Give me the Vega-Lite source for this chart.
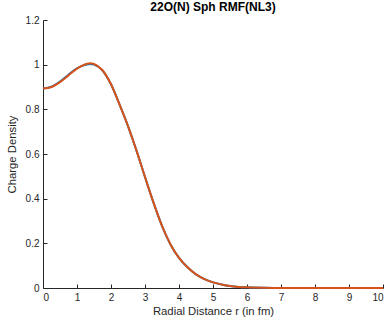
{
  "$schema": "https://vega.github.io/schema/vega-lite/v6.json",
  "autosize": {"type": "none"},
  "padding": {"left": 43, "top": 20, "right": 4, "bottom": 39},
  "width": 340,
  "height": 268,
  "background": "white",
  "title": {"text": "22O(N) Sph RMF(NL3)", "font": "Liberation Sans", "fontSize": 12, "fontWeight": "bold", "color": "#000000", "offset": 1},
  "config": {
    "view": {"stroke": null},
    "axis": {"labelFont": "Liberation Sans", "titleFont": "Liberation Sans", "labelFontSize": 10, "titleFontSize": 11.3, "titleFontWeight": "normal", "labelColor": "#262626", "titleColor": "#262626", "domainColor": "#262626", "tickColor": "#262626", "grid": false, "tickSize": -4, "domainWidth": 1, "tickWidth": 1}
  },
  "data": {"values": [
    {"r": 0, "y1": 0.893, "y2": 0.893},
    {"r": 0.25, "y1": 0.901, "y2": 0.9},
    {"r": 0.5, "y1": 0.924, "y2": 0.922},
    {"r": 0.75, "y1": 0.955, "y2": 0.952},
    {"r": 1.0, "y1": 0.984, "y2": 0.982},
    {"r": 1.25, "y1": 1.0, "y2": 1.002},
    {"r": 1.4, "y1": 1.003, "y2": 1.006},
    {"r": 1.5, "y1": 1.0, "y2": 1.003},
    {"r": 1.75, "y1": 0.974, "y2": 0.975},
    {"r": 2.0, "y1": 0.912, "y2": 0.912},
    {"r": 2.25, "y1": 0.822, "y2": 0.822},
    {"r": 2.5, "y1": 0.725, "y2": 0.725},
    {"r": 2.75, "y1": 0.615, "y2": 0.615},
    {"r": 3.0, "y1": 0.497, "y2": 0.497},
    {"r": 3.25, "y1": 0.382, "y2": 0.382},
    {"r": 3.5, "y1": 0.278, "y2": 0.278},
    {"r": 3.75, "y1": 0.195, "y2": 0.195},
    {"r": 4.0, "y1": 0.135, "y2": 0.135},
    {"r": 4.25, "y1": 0.093, "y2": 0.093},
    {"r": 4.5, "y1": 0.061, "y2": 0.061},
    {"r": 4.75, "y1": 0.04, "y2": 0.04},
    {"r": 5.0, "y1": 0.025, "y2": 0.025},
    {"r": 5.25, "y1": 0.016, "y2": 0.016},
    {"r": 5.5, "y1": 0.009, "y2": 0.009},
    {"r": 5.75, "y1": 0.005, "y2": 0.005},
    {"r": 6.0, "y1": 0.003, "y2": 0.003},
    {"r": 6.5, "y1": 0.001, "y2": 0.001},
    {"r": 7.0, "y1": 0.0004, "y2": 0.0004},
    {"r": 8.0, "y1": 0.0001, "y2": 0.0001},
    {"r": 9.0, "y1": 0, "y2": 0},
    {"r": 10.0, "y1": 0, "y2": 0}
  ]},
  "encoding": {
    "x": {"field": "r", "type": "quantitative", "scale": {"domain": [0, 10], "nice": false}, "axis": {"title": "Radial Distance r (in fm)", "values": [0,1,2,3,4,5,6,7,8,9,10], "format": "~r", "labelPadding": 8, "titlePadding": 3}}
  },
  "layer": [
    {"mark": {"type": "line", "color": "#0072BD", "strokeWidth": 2, "interpolate": "monotone"},
     "encoding": {"y": {"field": "y1", "type": "quantitative", "scale": {"domain": [0, 1.2], "nice": false}, "axis": {"title": "Charge Density", "values": [0, 0.2, 0.4, 0.6, 0.8, 1, 1.2], "format": "~r", "labelPadding": 8, "titlePadding": 8}}}},
    {"mark": {"type": "line", "color": "#D95319", "strokeWidth": 2, "interpolate": "monotone"},
     "encoding": {"y": {"field": "y2", "type": "quantitative"}}}
  ]
}
